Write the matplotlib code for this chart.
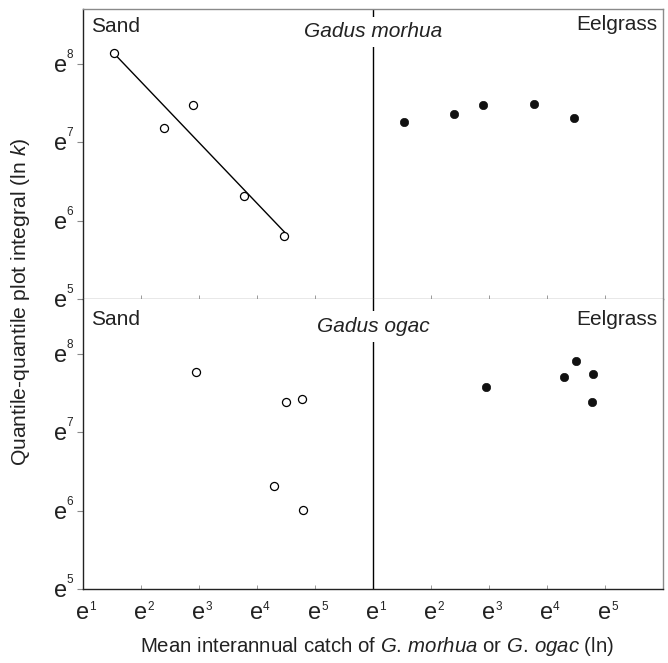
import numpy as np
import matplotlib
matplotlib.use('Agg')
import matplotlib.pyplot as plt

plt.rcParams['font.family'] = ['Liberation Sans', 'DejaVu Sans']
plt.rcParams['mathtext.fontset'] = 'custom'
plt.rcParams['mathtext.rm'] = 'Liberation Sans'
plt.rcParams['mathtext.it'] = 'Liberation Sans:italic'

# values are natural logs (x = ln catch, y = ln k)
morhua_sand_x = [1.53, 2.40, 2.90, 3.78, 4.47]
morhua_sand_y = [8.14, 7.18, 7.47, 6.32, 5.81]
morhua_eel_x = [1.53, 2.40, 2.90, 3.78, 4.47]
morhua_eel_y = [7.26, 7.36, 7.47, 7.49, 7.31]

ogac_sand_x = [2.95, 4.50, 4.78, 4.29, 4.79]
ogac_sand_y = [7.77, 7.38, 7.42, 6.32, 6.01]
ogac_eel_x = [2.95, 4.29, 4.50, 4.79, 4.78]
ogac_eel_y = [7.58, 7.71, 7.91, 7.74, 7.38]

x_ticks = [1, 2, 3, 4, 5]
y_ticks = [5, 6, 7, 8]
x_shift = 5  # eelgrass half is drawn right of the sand half

fig = plt.figure(figsize=(6.68, 6.63), dpi=100)
ax_top = fig.add_axes([0.1243, 0.549, 0.8683, 0.4374])
ax_bot = fig.add_axes([0.1243, 0.1116, 0.8683, 0.4374])

dark = '#222222'
grey = '#8a8a8a'


def e_ylabel(ax, n):
    tr = ax.get_yaxis_transform()
    ax.annotate('e', xy=(0, n), xycoords=tr, xytext=(-16, -8), textcoords='offset pixels',
                ha='right', va='baseline', fontsize=17, color=dark, annotation_clip=False)
    ax.annotate(str(n), xy=(0, n), xycoords=tr, xytext=(-17, 6), textcoords='offset pixels',
                ha='left', va='baseline', fontsize=8.5, color=dark, annotation_clip=False)


def e_xlabel(ax, pos, n):
    tr = ax.get_xaxis_transform()
    ax.annotate('e', xy=(pos, 0), xycoords=tr, xytext=(0, -30), textcoords='offset pixels',
                ha='center', va='baseline', fontsize=17, color=dark, annotation_clip=False)
    ax.annotate(str(n), xy=(pos, 0), xycoords=tr, xytext=(6, -21), textcoords='offset pixels',
                ha='left', va='baseline', fontsize=8.5, color=dark, annotation_clip=False)


panels = [
    (ax_top, morhua_sand_x, morhua_sand_y, morhua_eel_x, morhua_eel_y, 'Gadus morhua', 0.902),
    (ax_bot, ogac_sand_x, ogac_sand_y, ogac_eel_x, ogac_eel_y, 'Gadus ogac', 0.886),
]

for ax, sx, sy, ex, ey, name, name_y in panels:
    ax.set_xlim(1, 1 + 2 * x_shift)
    ax.set_ylim(5, 8.70)

    ax.plot(sx, sy, 'o', ms=5.8, mfc='white', mec='black', mew=0.9, zorder=4)
    ax.plot(np.array(ex) + x_shift, ey, 'o', ms=6, mfc='#111111', mec='#111111', mew=0.5, zorder=4)
    ax.axvline(1 + x_shift, color='black', lw=1.0, zorder=2)

    ax.text(0.0138, 0.922 if ax is ax_top else 0.910, 'Sand', transform=ax.transAxes,
            fontsize=15, ha='left', va='baseline', color=dark)
    ax.text(0.9897, 0.926 if ax is ax_top else 0.910, 'Eelgrass', transform=ax.transAxes,
            fontsize=15, ha='right', va='baseline', color=dark)
    ax.text(0.5, name_y, name, transform=ax.transAxes, fontsize=15, style='italic',
            ha='center', va='baseline', color=dark,
            bbox=dict(fc='white', ec='none', pad=4), zorder=3)

    all_pos = x_ticks + [t + x_shift for t in x_ticks]
    ax.set_xticks(all_pos)
    ax.set_xticklabels([])
    ax.tick_params(axis='x', direction='in', length=3, width=0.6, color=grey)
    ax.set_yticks(y_ticks)
    ax.set_yticklabels([])
    ax.tick_params(axis='y', direction='out', length=4, width=0.8, color=grey)

    ax.spines['left'].set_color(dark)
    ax.spines['top'].set_color(grey)
    ax.spines['right'].set_color(grey)
    ax.spines['bottom'].set_color(grey)
    for s in ax.spines.values():
        s.set_linewidth(1.0)

    for t in y_ticks:
        e_ylabel(ax, t)

# regression line through the sand points of G. morhua
slope, icpt = np.polyfit(morhua_sand_x, morhua_sand_y, 1)
fit_x = np.array([min(morhua_sand_x), max(morhua_sand_x)])
ax_top.plot(fit_x, icpt + slope * fit_x, color='black', lw=1.0, zorder=3)

ax_bot.spines['top'].set_visible(False)
ax_bot.spines['bottom'].set_color(dark)
for t in x_ticks:
    e_xlabel(ax_bot, t, t)
    e_xlabel(ax_bot, t + x_shift, t)

fig.text(377 / 668, 1 - 647 / 663, r'Mean interannual catch of $G.\,morhua$ or $G.\,ogac$ (ln)',
         ha='center', va='center', fontsize=14.7, color=dark)
fig.text(21 / 668, 1 - 302 / 663, r'Quantile-quantile plot integral (ln $k$)',
         ha='center', va='center', rotation=90, fontsize=15.2, color=dark)

fig.savefig('out.png', dpi=100)
